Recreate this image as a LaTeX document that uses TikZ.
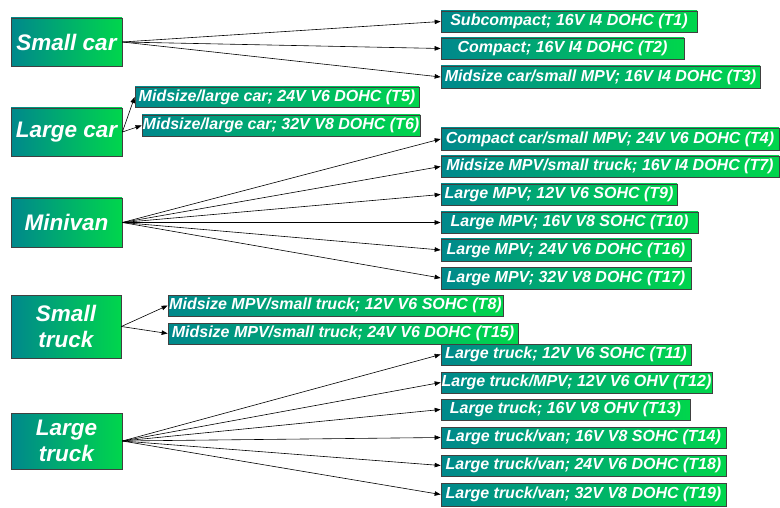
\documentclass[tikz,border=0pt]{standalone}
\usepackage{fontspec}
\setmainfont{Liberation Sans}
\usetikzlibrary{arrows.meta}
\definecolor{cteal}{RGB}{0,136,140}
\definecolor{cgreen}{RGB}{0,214,76}
\newcommand\mkbox[7]{\node[#7, minimum width={(#4-#2)*1pt}, minimum height={(#5-#3)*1pt}] (#1) at ({(#2+#4)/2},{(#3+#5)/2}) {#6};}
\tikzset{
 gb/.style={draw=black!75, line width=0.7pt, left color=cteal, right color=cgreen, inner sep=0pt, text=white, align=center},
 bigbox/.style={gb, font=\fontsize{22.5}{26}\selectfont\bfseries\itshape},
 smallbox/.style={gb, font=\fontsize{16}{18}\selectfont\bfseries\itshape},
 arr/.style={-{Triangle[length=6pt,width=4.5pt]}, line width=0.6pt, black}
}
\begin{document}
\begin{tikzpicture}[x=1pt,y=-1pt]
\useasboundingbox (0,0) rectangle (780,508);
% left boxes
\mkbox{sc}{11}{18}{122}{66}{Small car}{bigbox}
\mkbox{lc}{11}{108}{122}{156}{Large car}{bigbox}
\mkbox{mv}{11}{198}{122}{247}{Minivan}{bigbox}
\mkbox{st}{11}{295}{121}{358}{Small\\truck}{bigbox}
\mkbox{lt}{11}{413}{122}{469}{Large\\truck}{bigbox}
% right boxes
\mkbox{t1}{441}{11}{697}{32}{Subcompact; 16V I4 DOHC (T1)}{smallbox}
\mkbox{t2}{441}{38}{684}{59}{Compact; 16V I4 DOHC (T2)}{smallbox}
\mkbox{t3}{441}{66}{760}{88}{Midsize car/small MPV; 16V I4 DOHC (T3)}{smallbox}
\mkbox{t5}{135}{87}{419}{107}{Midsize/large car; 24V V6 DOHC (T5)}{smallbox}
\mkbox{t6}{142}{115}{420}{136}{Midsize/large car; 32V V8 DOHC (T6)}{smallbox}
\mkbox{t4}{441}{128}{779}{150}{Compact car/small MPV; 24V V6 DOHC (T4)}{smallbox}
\mkbox{t7}{441}{156}{779}{177}{Midsize MPV/small truck; 16V I4 DOHC (T7)}{smallbox}
\mkbox{t9}{441}{184}{677}{205}{Large MPV; 12V V6 SOHC (T9)}{smallbox}
\mkbox{t10}{441}{212}{698}{233}{Large MPV; 16V V8 SOHC (T10)}{smallbox}
\mkbox{t16}{441}{239}{691}{261}{Large MPV; 24V V6 DOHC (T16)}{smallbox}
\mkbox{t17}{441}{267}{691}{289}{Large MPV; 32V V8 DOHC (T17)}{smallbox}
\mkbox{t8}{168}{295}{503}{316}{Midsize MPV/small truck; 12V V6 SOHC (T8)}{smallbox}
\mkbox{t15}{168}{323}{518}{344}{Midsize MPV/small truck; 24V V6 DOHC (T15)}{smallbox}
\mkbox{t11}{441}{344}{691}{365}{Large truck; 12V V6 SOHC (T11)}{smallbox}
\mkbox{t12}{441}{372}{712}{393}{Large truck/MPV; 12V V6 OHV (T12)}{smallbox}
\mkbox{t13}{441}{399}{690}{420}{Large truck; 16V V8 OHV (T13)}{smallbox}
\mkbox{t14}{441}{427}{726}{448}{Large truck/van; 16V V8 SOHC (T14)}{smallbox}
\mkbox{t18}{441}{455}{726}{476}{Large truck/van; 24V V6 DOHC (T18)}{smallbox}
\mkbox{t19}{441}{483}{726}{506}{Large truck/van; 32V V8 DOHC (T19)}{smallbox}
% connectors
\foreach \t in {t1,t2,t3} \draw[arr] (sc.east) -- (\t.west);
\foreach \t in {t5,t6} \draw[arr] (lc.east) -- (\t.west);
\foreach \t in {t4,t7,t9,t10,t16,t17} \draw[arr] (mv.east) -- (\t.west);
\foreach \t in {t8,t15} \draw[arr] (st.east) -- (\t.west);
\foreach \t in {t11,t12,t13,t14,t18,t19} \draw[arr] (lt.east) -- (\t.west);
\end{tikzpicture}
\end{document}
